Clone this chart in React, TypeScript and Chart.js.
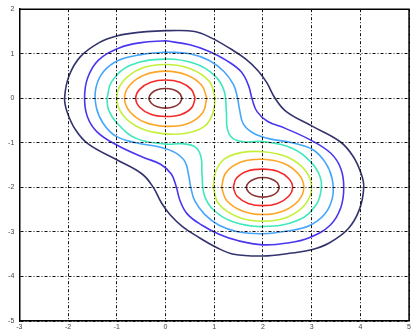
import React, { useEffect, useRef } from "react";
import { Chart, registerables } from "chart.js";

Chart.register(...registerables);

type Pt = [number, number];

// Axis ticks
const xTicks = [-3, -2, -1, 0, 1, 2, 3, 4, 5];
const yTicks = [-5, -4, -3, -2, -1, 0, 1, 2];

// Contour level colours (outermost -> innermost)
const levelColors = ["#33336f", "#4a36ee", "#46a6fa", "#3ee8bc", "#c4f03c", "#ffa526", "#f52a2a", "#8a3434"];

// Contour lines (x, y data units)
const navyLoop: Pt[] = [
  [0, 1.52], [-0.55, 1.48], [-1.0, 1.4], [-1.36, 1.25], [-1.75, 0.93], [-1.98, 0.5], [-2.07, 0],
  [-2.02, -0.3], [-1.85, -0.7], [-1.58, -1.03], [-1.0, -1.38], [-0.48, -1.7], [-0.25, -2.0],
  [-0.08, -2.35], [0.1, -2.62], [0.35, -2.88], [0.65, -3.1], [1.05, -3.35], [1.4, -3.5], [2, -3.54],
  [2.55, -3.48], [3.0, -3.4], [3.36, -3.25], [3.75, -2.93], [3.98, -2.5], [4.07, -2], [4.02, -1.7],
  [3.85, -1.3], [3.58, -0.97], [3.0, -0.62], [2.48, -0.3], [2.25, 0], [2.08, 0.35], [1.9, 0.62],
  [1.65, 0.88], [1.35, 1.1], [0.95, 1.35], [0.6, 1.5],
];
const blueLoop: Pt[] = [
  [0, 1.29], [-0.5, 1.25], [-0.95, 1.13], [-1.38, 0.85], [-1.6, 0.45], [-1.66, 0], [-1.6, -0.42],
  [-1.4, -0.76], [-1.0, -1.05], [-0.45, -1.33], [-0.1, -1.48], [0.12, -1.7], [0.22, -1.98],
  [0.3, -2.3], [0.45, -2.6], [0.75, -2.85], [1.1, -3.05], [1.5, -3.2], [2, -3.29], [2.5, -3.25],
  [2.95, -3.13], [3.38, -2.85], [3.6, -2.45], [3.66, -2], [3.6, -1.58], [3.4, -1.24], [3.0, -0.95],
  [2.45, -0.67], [2.1, -0.52], [1.88, -0.3], [1.78, -0.02], [1.7, 0.3], [1.55, 0.6], [1.25, 0.85],
  [0.9, 1.05], [0.5, 1.2],
];
const lightBlueLoop: Pt[] = [
  [0, 1.04], [-0.5, 0.98], [-0.95, 0.86], [-1.27, 0.6], [-1.43, 0.22], [-1.42, -0.2], [-1.28, -0.56],
  [-1.02, -0.85], [-0.6, -1.0], [-0.1, -1.1], [0.2, -1.22], [0.4, -1.42], [0.48, -1.75], [0.52, -2.0],
  [0.6, -2.3], [0.8, -2.6], [1.1, -2.85], [1.5, -3.0], [2, -3.04], [2.5, -2.98], [2.95, -2.86],
  [3.27, -2.6], [3.43, -2.22], [3.42, -1.8], [3.28, -1.44], [3.02, -1.15], [2.6, -1.0], [2.1, -0.9],
  [1.8, -0.78], [1.6, -0.58], [1.52, -0.25], [1.48, 0], [1.4, 0.3], [1.2, 0.6], [0.9, 0.85], [0.5, 1.0],
];
const cyanLoop: Pt[] = [
  [-1.2, 0], [-1.1, 0.38], [-0.72, 0.74], [0, 0.88], [0.6, 0.78], [1.0, 0.52], [1.2, 0.18],
  [1.25, -0.3], [1.27, -0.68], [1.38, -0.9], [1.65, -0.98], [2.0, -0.97], [2.6, -1.12], [3.0, -1.45],
  [3.17, -1.75], [3.2, -2], [3.1, -2.38], [2.72, -2.74], [2.0, -2.88], [1.4, -2.78], [1.0, -2.52],
  [0.8, -2.18], [0.75, -1.7], [0.73, -1.32], [0.62, -1.1], [0.35, -1.02], [0, -1.03], [-0.6, -0.9],
  [-1.0, -0.55], [-1.17, -0.25],
];
const yellowUpper: Pt[] = [
  [1.02, 0], [0.9, 0.38], [0.5, 0.67], [0, 0.76], [-0.5, 0.67], [-0.87, 0.38], [-1.0, 0],
  [-0.87, -0.38], [-0.5, -0.68], [0, -0.8], [0.45, -0.78], [0.8, -0.63], [0.97, -0.35],
];
const yellowLower: Pt[] = [
  [0.98, -2], [1.1, -2.38], [1.5, -2.67], [2, -2.76], [2.5, -2.67], [2.87, -2.38], [3.0, -2],
  [2.87, -1.62], [2.5, -1.32], [2, -1.2], [1.55, -1.22], [1.2, -1.37], [1.03, -1.65],
];
const orangeUpper: Pt[] = [
  [0.85, 0], [0.74, 0.3], [0.42, 0.53], [0, 0.61], [-0.42, 0.53], [-0.73, 0.3], [-0.84, 0],
  [-0.73, -0.3], [-0.42, -0.54], [0, -0.63], [0.45, -0.57], [0.76, -0.33],
];
const orangeLower: Pt[] = [
  [1.15, -2], [1.26, -2.3], [1.58, -2.53], [2, -2.61], [2.42, -2.53], [2.73, -2.3], [2.84, -2],
  [2.73, -1.7], [2.42, -1.46], [2, -1.37], [1.55, -1.43], [1.24, -1.67],
];
const redUpper: Pt[] = [
  [0.61, 0], [0.53, 0.2], [0.3, 0.36], [0, 0.41], [-0.3, 0.36], [-0.53, 0.2], [-0.61, 0],
  [-0.53, -0.2], [-0.3, -0.36], [0, -0.41], [0.31, -0.37], [0.54, -0.21],
];
const redLower: Pt[] = [
  [1.39, -2], [1.47, -2.2], [1.7, -2.36], [2, -2.41], [2.3, -2.36], [2.53, -2.2], [2.61, -2],
  [2.53, -1.8], [2.3, -1.64], [2, -1.59], [1.69, -1.63], [1.46, -1.79],
];
const brownUpper: Pt[] = [
  [0.34, 0], [0.29, 0.11], [0.17, 0.19], [0, 0.22], [-0.17, 0.19], [-0.29, 0.11], [-0.34, 0],
  [-0.29, -0.11], [-0.17, -0.19], [0, -0.22], [0.17, -0.19], [0.29, -0.11],
];
const brownLower: Pt[] = [
  [2.34, -2], [2.29, -1.89], [2.17, -1.81], [2, -1.78], [1.83, -1.81], [1.71, -1.89], [1.66, -2],
  [1.71, -2.11], [1.83, -2.19], [2, -2.22], [2.17, -2.19], [2.29, -2.11],
];

const contours: { pts: Pt[]; level: number }[] = [
  { pts: navyLoop, level: 0 },
  { pts: blueLoop, level: 1 },
  { pts: lightBlueLoop, level: 2 },
  { pts: cyanLoop, level: 3 },
  { pts: yellowUpper, level: 4 },
  { pts: yellowLower, level: 4 },
  { pts: orangeUpper, level: 5 },
  { pts: orangeLower, level: 5 },
  { pts: redUpper, level: 6 },
  { pts: redLower, level: 6 },
  { pts: brownUpper, level: 7 },
  { pts: brownLower, level: 7 },
];

const boxPlugin = {
  id: "boxPlugin",
  afterDraw(chart: any) {
    const { ctx, chartArea } = chart;
    ctx.save();
    ctx.strokeStyle = "#000";
    ctx.lineWidth = 1.5;
    ctx.beginPath();
    ctx.moveTo(chartArea.left, chartArea.top);
    ctx.lineTo(chartArea.right, chartArea.top);
    ctx.lineTo(chartArea.right, chartArea.bottom);
    ctx.stroke();
    ctx.restore();
  },
};

export default function App() {
  const ref = useRef<HTMLCanvasElement | null>(null);

  useEffect(() => {
    if (!ref.current) return;
    const datasets = contours.map((c) => {
      const closed = c.pts.concat([c.pts[0]]);
      return {
        data: closed.map(([x, y]) => ({ x, y })),
        showLine: true,
        borderColor: levelColors[c.level],
        borderWidth: 1.6,
        pointRadius: 0,
        tension: 0.4,
        fill: false,
      };
    });
    const tickFont = { size: 7, family: "'Liberation Sans', Arial, sans-serif" };
    const chart = new Chart(ref.current, {
      type: "scatter",
      data: { datasets },
      plugins: [boxPlugin],
      options: {
        responsive: false,
        animation: false,
        devicePixelRatio: 1,
        layout: { padding: { top: 8, right: 1.7, left: 0, bottom: 0 } },
        plugins: { legend: { display: false }, tooltip: { enabled: false } },
        scales: {
          x: {
            type: "linear",
            min: xTicks[0],
            max: xTicks[xTicks.length - 1],
            afterBuildTicks: (s: any) => {
              s.ticks = xTicks.map((v) => ({ value: v }));
            },
            afterFit: (s: any) => {
              s.height = 10;
            },
            grid: { color: "#111", lineWidth: 1, drawTicks: false, z: 1 },
            border: { display: true, color: "#000", width: 1.5, dash: [3, 2, 1, 2], z: 1 },
            ticks: { font: tickFont, color: "#444", padding: 2, maxRotation: 0, autoSkip: false },
          },
          y: {
            type: "linear",
            min: yTicks[0],
            max: yTicks[yTicks.length - 1],
            afterBuildTicks: (s: any) => {
              s.ticks = yTicks.map((v) => ({ value: v }));
            },
            afterFit: (s: any) => {
              s.width = 19.3;
            },
            grid: { color: "#111", lineWidth: 1, drawTicks: false, z: 1 },
            border: { display: true, color: "#000", width: 1.5, dash: [3, 2, 1, 2], z: 1 },
            ticks: { font: tickFont, color: "#444", padding: 5, autoSkip: false },
          },
        },
      } as any,
    });
    return () => chart.destroy();
  }, []);

  return (
    <div style={{ position: "fixed", left: 0, top: 0, width: 413, height: 331, background: "#fff" }}>
      <canvas ref={ref} width={413} height={331} style={{ display: "block", width: 413, height: 331 }} />
    </div>
  );
}
